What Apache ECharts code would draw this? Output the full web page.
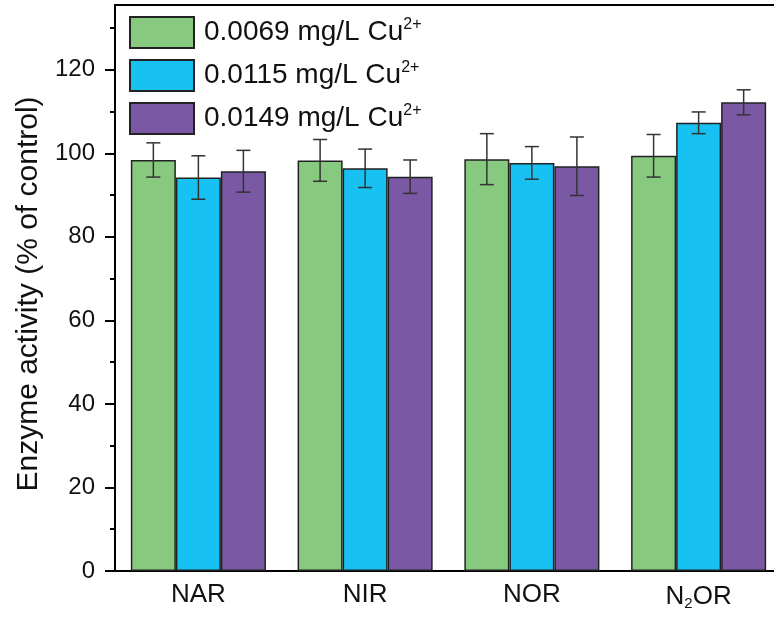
<!DOCTYPE html>
<html>
<head>
<meta charset="utf-8">
<script src="https://cdn.jsdelivr.net/npm/echarts@6/dist/echarts.min.js"></script>
<style>
  html, body { margin: 0; padding: 0; background: #fff; }
  #chart { width: 774px; height: 617px; }
</style>
</head>
<body>
<div id="chart"></div>
<script>
// enzyme categories and Cu2+ doses
const categories = ['NAR', 'NIR', 'NOR', 'N2OR'];
const doses = ['0.0069 mg/L Cu', '0.0115 mg/L Cu', '0.0149 mg/L Cu'];

// mean enzyme activity (% of control)
const lowDose = [98.4, 98.3, 98.6, 99.4];
const midDose = [94.2, 96.4, 97.7, 107.3];
const highDose = [95.7, 94.4, 96.9, 112.2];

// error bar half-lengths
const lowErr = [4.1, 5.0, 6.1, 5.1];
const midErr = [5.2, 4.6, 3.9, 2.6];
const highErr = [5.0, 4.0, 7.0, 3.0];

const majorTicks = [0, 20, 40, 60, 80, 100, 120];
const minorTicks = [10, 30, 50, 70, 90, 110, 130];

const colors = ['#88c980', '#17c1f2', '#7a58a4'];
const font = '"Liberation Sans", Arial, sans-serif';
const catGap = 0.19;

const chart = echarts.init(document.getElementById('chart'));

const values = [lowDose, midDose, highDose];
const errors = [lowErr, midErr, highErr];

const barSeries = doses.map((name, k) => ({
    name: name,
    type: 'bar',
    data: values[k],
    barGap: '0%',
    barCategoryGap: (catGap * 100) + '%',
    itemStyle: {
        color: colors[k],
        borderColor: '#222',
        borderWidth: 1.5
    }
}));

// error bars drawn over each bar
const errSeries = doses.map((name, k) => ({
    type: 'custom',
    z: 10,
    silent: true,
    data: categories.map((c, i) => [i, values[k][i], errors[k][i]]),
    renderItem: (params, api) => {
        const x = api.value(0), v = api.value(1), e = api.value(2);
        const top = api.coord([x, v + e]);
        const bot = api.coord([x, v - e]);
        const band = api.size([1, 0])[0];
        const barW = band * (1 - catGap) / 3;
        const cx = top[0] + (k - 1) * barW;
        const w = 7;
        const style = { stroke: '#333', lineWidth: 1.5 };
        return {
            type: 'group',
            children: [
                { type: 'line', shape: { x1: cx, y1: top[1], x2: cx, y2: bot[1] }, style },
                { type: 'line', shape: { x1: cx - w, y1: top[1], x2: cx + w, y2: top[1] }, style },
                { type: 'line', shape: { x1: cx - w, y1: bot[1], x2: cx + w, y2: bot[1] }, style }
            ]
        };
    }
}));

const option = {
    animation: false,
    textStyle: { fontFamily: font },
    grid: {
        left: 115,
        width: 667,
        top: 5,
        bottom: 46,
        outerBoundsMode: 'none'
    },
    legend: {
        data: doses,
        orient: 'vertical',
        left: 129,
        top: 16,
        padding: 0,
        icon: 'rect',
        itemWidth: 64,
        itemHeight: 31,
        itemGap: 10,
        formatter: name => `{t|${name}}{s|2+}`,
        textStyle: {
            rich: {
                t: { fontSize: 28, fontFamily: font, color: '#111', padding: [0, 0, 0, 5], lineHeight: 31 },
                s: { fontSize: 16, fontFamily: font, color: '#111', verticalAlign: 'top', lineHeight: 16 }
            }
        }
    },
    xAxis: [
        {
            type: 'category',
            data: categories,
            axisLine: { lineStyle: { color: '#000', width: 2 } },
            axisTick: { show: false },
            axisLabel: {
                margin: 11,
                formatter: v => v === 'N2OR' ? '{t|N}{b|2}{t|OR}' : `{t|${v}}`,
                rich: {
                    t: { fontSize: 26, fontFamily: font, color: '#111' },
                    b: { fontSize: 15, fontFamily: font, color: '#111', verticalAlign: 'bottom', padding: [14, 0, 0, 0] }
                }
            }
        },
        {
            // top frame line
            type: 'category',
            data: categories,
            position: 'top',
            axisLine: { show: true, onZero: false, lineStyle: { color: '#000', width: 2 } },
            axisTick: { show: false },
            axisLabel: { show: false }
        }
    ],
    yAxis: [
        {
            type: 'value',
            min: 0,
            max: 135.5,
            name: 'Enzyme activity (% of control)',
            nameLocation: 'middle',
            nameGap: 70,
            nameTextStyle: { fontSize: 30, fontFamily: font, color: '#111', padding: [0, 12, 0, 0] },
            splitLine: { show: false },
            axisLine: { show: true, lineStyle: { color: '#000', width: 2 } },
            axisTick: { show: true, length: 10, customValues: majorTicks, lineStyle: { color: '#000', width: 2 } },
            axisLabel: { customValues: majorTicks, fontSize: 24, color: '#111', margin: 20 }
        },
        {
            type: 'value',
            min: 0,
            max: 135.5,
            position: 'left',
            splitLine: { show: false },
            axisLine: { show: false },
            axisTick: { show: true, length: 5, customValues: minorTicks, lineStyle: { color: '#000', width: 2 } },
            axisLabel: { show: false }
        }
    ],
    series: [...barSeries, ...errSeries]
};

chart.setOption(option);
</script>
</body>
</html>
